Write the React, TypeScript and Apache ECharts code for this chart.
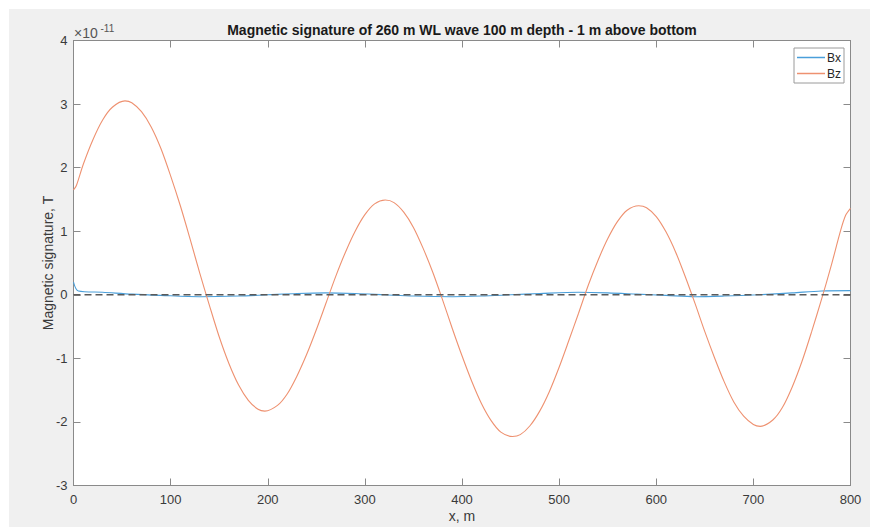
import React, { useEffect, useRef } from "react";
import * as echarts from "echarts";

// Values in units of 1e-11 T
const bzX = [0, 3, 10, 20, 30, 40, 53, 60, 70, 80, 90, 100, 110, 120, 130, 140, 150, 160, 170, 180, 190, 197, 210, 220, 230, 240, 250, 260, 270, 280, 290, 300, 310, 321, 330, 340, 350, 360, 370, 380, 390, 400, 410, 420, 430, 440, 452, 460, 470, 480, 490, 500, 510, 520, 530, 540, 550, 560, 570, 582, 590, 600, 610, 620, 630, 640, 650, 660, 670, 680, 690, 700, 707, 720, 730, 740, 750, 760, 770, 780, 790, 795, 800];
const bzValues = [1.65, 1.72, 2.05, 2.44, 2.75, 2.95, 3.05, 3.02, 2.88, 2.64, 2.30, 1.87, 1.40, 0.88, 0.34, -0.17, -0.66, -1.08, -1.42, -1.66, -1.80, -1.83, -1.74, -1.56, -1.28, -0.94, -0.55, -0.13, 0.29, 0.67, 1.00, 1.26, 1.43, 1.49, 1.45, 1.30, 1.06, 0.73, 0.35, -0.08, -0.53, -0.96, -1.36, -1.71, -1.98, -2.16, -2.23, -2.20, -2.06, -1.83, -1.52, -1.14, -0.72, -0.29, 0.15, 0.54, 0.88, 1.15, 1.33, 1.40, 1.37, 1.23, 0.99, 0.67, 0.28, -0.14, -0.58, -0.99, -1.37, -1.69, -1.91, -2.04, -2.07, -1.97, -1.77, -1.45, -1.05, -0.58, -0.08, 0.45, 1.02, 1.25, 1.36];

const bxX = [0, 5, 30, 60, 90, 130, 170, 200, 230, 260, 290, 320, 350, 390, 420, 450, 480, 520, 550, 580, 610, 640, 670, 705, 740, 770, 800];
const bxValues = [0.20, 0.06, 0.04, 0.01, -0.01, -0.03, -0.02, 0.0, 0.02, 0.03, 0.02, 0.0, -0.02, -0.03, -0.02, 0.0, 0.02, 0.04, 0.03, 0.01, -0.01, -0.03, -0.02, 0.0, 0.03, 0.06, 0.065];

const zeroLineX = [0, 800];
const zeroLineY = [0, 0];

const TITLE = "Magnetic signature of 260 m WL wave 100 m depth - 1 m above bottom";
const X_NAME = "x, m";
const Y_NAME = "Magnetic signature, T";

const FONT = "'Liberation Sans', Arial, Helvetica, sans-serif";
const AXIS_COLOR = "#8a8a8a";
const TEXT_COLOR = "#3a3a3a";
const BX_COLOR = "#4a9fda";
const BZ_COLOR = "#ee9170";

export default function App() {
  const ref = useRef<HTMLDivElement>(null);
  useEffect(() => {
    document.body.style.margin = "0";
    const chart = echarts.init(ref.current!, undefined, { renderer: "svg" });
    const gridL = 73.5, gridT = 40.5, gridR = 19.5, gridB = 41.5;
    const option: any = {
      animation: false,
      backgroundColor: "#ffffff",
      textStyle: { fontFamily: FONT },
      graphic: [
        {
          type: "rect",
          z: -100,
          shape: { x: 9, y: 9, width: 861, height: 518 },
          style: { fill: "#f0f0f0" },
          silent: true,
        },
        {
          type: "text",
          x: 462,
          y: 30,
          style: {
            text: TITLE,
            font: `bold 14px ${FONT}`,
            fill: "#1a1a1a",
            textAlign: "center",
            textVerticalAlign: "middle",
          },
        },
        {
          type: "text",
          x: 462,
          y: 516,
          style: {
            text: X_NAME,
            font: `14px ${FONT}`,
            fill: TEXT_COLOR,
            textAlign: "center",
            textVerticalAlign: "middle",
          },
        },
        {
          type: "text",
          x: 48,
          y: 263,
          rotation: Math.PI / 2,
          style: {
            text: Y_NAME,
            font: `14px ${FONT}`,
            fill: TEXT_COLOR,
            textAlign: "center",
            textVerticalAlign: "middle",
          },
        },
        {
          type: "text",
          x: 74,
          y: 33,
          style: {
            text: "×10",
            font: `14px ${FONT}`,
            fill: "#555",
            textAlign: "left",
            textVerticalAlign: "middle",
          },
        },
        {
          type: "text",
          x: 100.5,
          y: 28,
          style: {
            text: "-11",
            font: `10px ${FONT}`,
            fill: "#555",
            textAlign: "left",
            textVerticalAlign: "middle",
          },
        },
      ],
      grid: {
        left: gridL,
        top: gridT,
        right: gridR,
        bottom: gridB,
        show: true,
        backgroundColor: "#ffffff",
        borderColor: AXIS_COLOR,
        borderWidth: 1,
      },
      legend: {
        left: 794,
        top: 48,
        orient: "vertical",
        data: ["Bx", "Bz"],
        icon: "rect",
        backgroundColor: "#ffffff",
        borderColor: "#9a9a9a",
        borderWidth: 1,
        borderRadius: 0,
        padding: [3, 3, 3, 3],
        itemGap: 3,
        itemWidth: 28,
        itemHeight: 1.5,
        textStyle: { fontSize: 12, color: "#262626", fontFamily: FONT, padding: [0, 0, 0, -3], lineHeight: 13 },
      },
      xAxis: [
        {
          type: "value",
          min: 0,
          max: 800,
          interval: 100,
          axisLine: { show: true, onZero: false, lineStyle: { color: AXIS_COLOR } },
          axisTick: { show: true, inside: true, length: 7, lineStyle: { color: AXIS_COLOR } },
          axisLabel: { color: TEXT_COLOR, fontSize: 13, fontFamily: FONT, margin: 7 },
          splitLine: { show: false },
        },
        {
          type: "value",
          position: "top",
          min: 0,
          max: 800,
          interval: 100,
          axisLine: { show: true, onZero: false, lineStyle: { color: AXIS_COLOR } },
          axisTick: { show: true, inside: true, length: 7, lineStyle: { color: AXIS_COLOR } },
          axisLabel: { show: false },
          splitLine: { show: false },
        },
      ],
      yAxis: [
        {
          type: "value",
          min: -3,
          max: 4,
          interval: 1,
          axisLine: { show: true, onZero: false, lineStyle: { color: AXIS_COLOR } },
          axisTick: { show: true, inside: true, length: 7, lineStyle: { color: AXIS_COLOR } },
          axisLabel: { color: TEXT_COLOR, fontSize: 13, fontFamily: FONT, margin: 6 },
          splitLine: { show: false },
        },
        {
          type: "value",
          position: "right",
          min: -3,
          max: 4,
          interval: 1,
          axisLine: { show: true, onZero: false, lineStyle: { color: AXIS_COLOR } },
          axisTick: { show: true, inside: true, length: 7, lineStyle: { color: AXIS_COLOR } },
          axisLabel: { show: false },
          splitLine: { show: false },
        },
      ],
      series: [
        {
          name: "Bx",
          type: "line",
          symbol: "none",
          smooth: 0.3,
          data: bxX.map((x, i) => [x, bxValues[i]]),
          lineStyle: { color: BX_COLOR, width: 1.1 },
          itemStyle: { color: BX_COLOR },
        },
        {
          name: "Bz",
          type: "line",
          symbol: "none",
          smooth: 0.3,
          data: bzX.map((x, i) => [x, bzValues[i]]),
          lineStyle: { color: BZ_COLOR, width: 1.1 },
          itemStyle: { color: BZ_COLOR },
        },
        {
          name: "zero",
          type: "line",
          symbol: "none",
          silent: true,
          data: zeroLineX.map((x, i) => [x, zeroLineY[i]]),
          lineStyle: { color: "#5a5a5a", width: 1.4, type: [7, 4] },
        },
      ],
    };
    chart.setOption(option);
    return () => chart.dispose();
  }, []);
  return <div ref={ref} style={{ width: 870, height: 527 }} />;
}
